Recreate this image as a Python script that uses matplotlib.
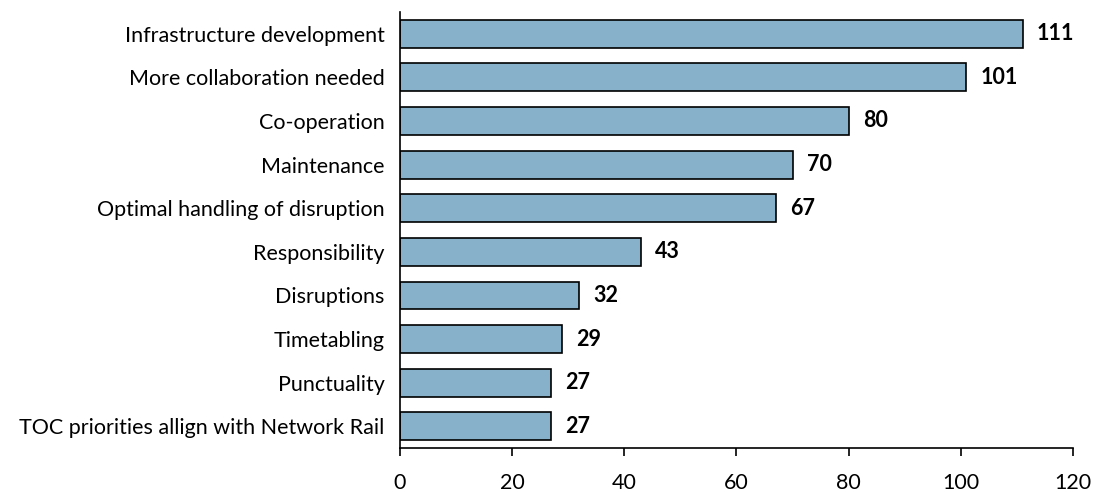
import matplotlib
matplotlib.use("Agg")
import matplotlib.pyplot as plt

categories = [
    "Infrastructure development",
    "More collaboration needed",
    "Co-operation",
    "Maintenance",
    "Optimal handling of disruption",
    "Responsibility",
    "Disruptions",
    "Timetabling",
    "Punctuality",
    "TOC priorities allign with Network Rail",
]
values = [111, 101, 80, 70, 67, 43, 32, 29, 27, 27]
xticks = [0, 20, 40, 60, 80, 100, 120]

plt.rcParams["font.family"] = ["Lato", "DejaVu Sans"]

fig = plt.figure(figsize=(10.95, 4.92), dpi=100)
ax = fig.add_axes([0.365, 0.089, 0.615, 0.887])

cats = categories[::-1]
vals = values[::-1]
pos = list(range(len(cats)))
ax.barh(pos, vals, height=0.64, color="#87b1cb", edgecolor="black", linewidth=1.2)

for p, v in zip(pos, vals):
    ax.text(v + 2.5, p, str(v), va="center", ha="left", fontsize=15.5, fontweight="bold")

ax.set_ylim(-0.5, len(cats) - 0.5)
ax.set_xlim(0, 120)
ax.set_yticks(pos)
ax.set_yticklabels(cats, fontsize=15.5)
ax.set_xticks(xticks)
ax.tick_params(axis="x", labelsize=15.5, length=6, width=1.2, direction="out", pad=12)
ax.tick_params(axis="y", length=0, pad=11)

for side in ["top", "right"]:
    ax.spines[side].set_visible(False)
for side in ["left", "bottom"]:
    ax.spines[side].set_linewidth(1.2)

fig.savefig("out.png", dpi=100)
